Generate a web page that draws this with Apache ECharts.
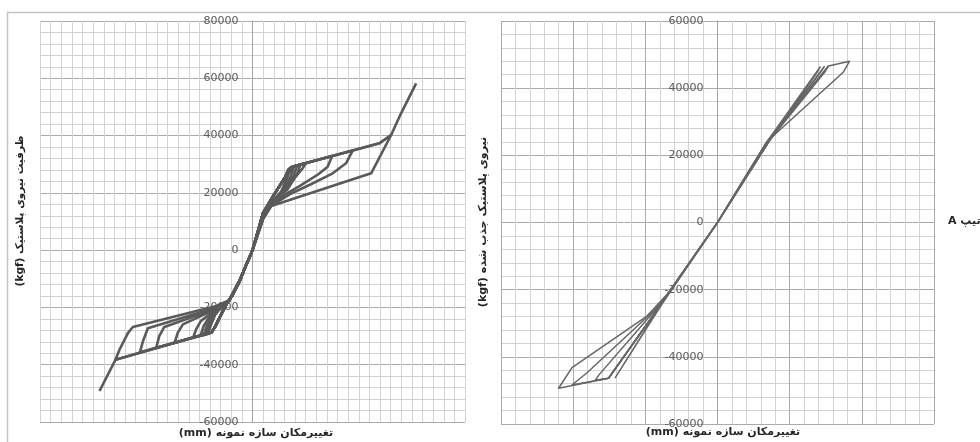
<!DOCTYPE html>
<html><head><meta charset="utf-8">
<script src="https://cdn.jsdelivr.net/npm/echarts@6/dist/echarts.min.js"></script>
<style>html,body{margin:0;padding:0;background:#fff}#c{width:980px;height:442px}</style>
</head><body><div id="c"></div>
<script>
// ---- Left chart (hysteresis) : [displacement (grid units), force kgf]
const leftLoop1 = [[0,0],[0.5,6500],[1.0,13000],[2.0,19200],[3.0,25000],[3.35,28200],[3.6,28980],[3.3,25500],[2.7,20500],[1.9,17000],[1.0,11500],[0,0],[-0.6,-5200],[-1.2,-10800],[-1.9,-15800],[-2.4,-18500],[-3.0,-22800],[-3.5,-26600],[-3.85,-28700],[-4.2,-29280],[-3.9,-26000],[-3.5,-22500],[-3.0,-20200],[-2.2,-17600],[-1.2,-10500],[0,0]];
const leftLoop2 = [[0,0],[0.5,6500],[1.0,13000],[2.0,19200],[3.0,25000],[3.6,28500],[3.9,29280],[3.6,25800],[2.9,20800],[1.9,17000],[1.0,11500],[0,0],[-0.6,-5200],[-1.2,-10800],[-1.9,-15800],[-2.4,-18500],[-3.0,-22800],[-3.5,-26600],[-3.85,-28700],[-4.4,-29480],[-4.1,-26200],[-3.6,-22700],[-3.1,-20300],[-2.2,-17600],[-1.2,-10500],[0,0]];
const leftLoop3 = [[0,0],[0.5,6500],[1.0,13000],[2.0,19200],[3.0,25000],[3.76,29140],[4.2,29580],[3.9,26200],[3.1,21000],[1.9,17000],[1.0,11500],[0,0],[-0.6,-5200],[-1.2,-10800],[-1.9,-15800],[-2.4,-18500],[-3.0,-22800],[-3.5,-26600],[-3.85,-28700],[-4.6,-29680],[-4.3,-26400],[-3.8,-22900],[-3.2,-20300],[-2.2,-17600],[-1.2,-10500],[0,0]];
const leftLoop4 = [[0,0],[0.5,6500],[1.0,13000],[2.0,19200],[3.0,25000],[3.76,29140],[4.5,29880],[4.2,26600],[3.3,21200],[1.9,17100],[1.0,11500],[0,0],[-0.6,-5200],[-1.2,-10800],[-1.9,-15800],[-2.4,-18500],[-3.0,-22800],[-3.5,-26600],[-3.85,-28700],[-4.9,-29980],[-4.6,-26500],[-4.0,-23000],[-3.3,-20300],[-2.2,-17600],[-1.2,-10500],[0,0]];
const leftLoop5 = [[0,0],[0.5,6500],[1.0,13000],[2.0,19200],[3.0,25000],[3.76,29140],[5.05,30430],[4.6,28000],[3.8,24500],[2.6,19500],[1.76,15900],[1.0,11000],[0,0],[-0.6,-5200],[-1.2,-10800],[-1.9,-15800],[-2.4,-18500],[-3.0,-22800],[-3.5,-26600],[-3.85,-28700],[-5.6,-30680],[-5.3,-27600],[-4.85,-24700],[-3.3,-20400],[-2.2,-17800],[-1.2,-10500],[0,0]];
const leftLoop6 = [[0,0],[0.5,6500],[1.0,13000],[2.0,19200],[3.0,25000],[3.76,29140],[7.5,32870],[7.07,29140],[6.2,26500],[4.5,22500],[3.0,19300],[1.76,15600],[1.0,11000],[0,0],[-0.6,-5200],[-1.2,-10800],[-1.9,-15800],[-2.4,-18500],[-3.0,-22800],[-3.5,-26600],[-3.85,-28700],[-7.34,-32420],[-7.03,-28800],[-6.55,-25900],[-3.3,-20300],[-2.2,-17700],[-1.2,-10500],[0,0]];
const leftLoop7 = [[0,0],[0.5,6500],[1.0,13000],[2.0,19200],[3.0,25000],[3.76,29140],[9.44,34800],[8.8,30320],[7.55,26830],[5.5,23000],[3.5,19500],[1.76,15500],[1.0,11000],[0,0],[-0.6,-5200],[-1.2,-10800],[-1.9,-15800],[-2.4,-18500],[-3.0,-22800],[-3.5,-26600],[-3.85,-28700],[-9.06,-34140],[-8.78,-30000],[-8.3,-26800],[-3.3,-20200],[-2.2,-17600],[-1.2,-10500],[0,0]];
const leftLoop8 = [[0,0],[0.5,6500],[1.0,13000],[2.0,19200],[3.0,25000],[3.76,29140],[11.95,37300],[13.05,40200],[11.17,26830],[1.76,15420],[1.0,11000],[0,0],[-0.6,-5200],[-1.2,-10800],[-1.9,-15800],[-2.4,-18500],[-3.0,-22800],[-3.5,-26600],[-3.85,-28700],[-10.6,-35680],[-10.3,-31700],[-9.85,-27280],[-3.4,-20000],[-2.2,-17600],[-1.2,-10500],[0,0]];
const leftLoop9 = [[0,0],[-0.6,-5200],[-1.2,-10800],[-1.9,-15800],[-2.4,-18500],[-3.0,-22800],[-3.5,-26600],[-3.85,-28700],[-12.9,-38300],[-12.5,-34600],[-11.7,-28800],[-11.26,-26820],[-3.4,-19490],[-2.2,-17500],[-1.2,-10500],[0,0]];
const leftFinalPos = [[0,0],[0.5,6500],[1.0,13000],[2.0,19200],[3.0,25000],[3.76,29140],[11.95,37300],[13.05,40200],[13.83,46600],[15.4,58250]];
const leftFinalNeg = [[0,0],[-0.6,-5200],[-1.2,-10800],[-1.9,-15800],[-2.4,-18500],[-3.0,-22800],[-3.5,-26600],[-3.85,-28700],[-12.9,-38300],[-14.4,-49170]];

// ---- Right chart
const rightLoop1 = [[0,0],[3.42,24000],[7.11,46310],[6.9,44700],[3.6,24300],[0,0],[-3.39,-20930],[-3.74,-23300],[-7.08,-46200],[-6.85,-44600],[-3.85,-24300],[0,0]];
const rightLoop2 = [[0,0],[3.42,24000],[7.4,46450],[7.15,44800],[3.6,24300],[0,0],[-3.39,-20930],[-3.74,-23300],[-7.55,-46390],[-7.3,-44800],[-3.9,-24400],[0,0]];
const rightLoop3 = [[0,0],[3.42,24000],[7.69,46610],[7.45,44900],[3.6,24400],[0,0],[-3.39,-20930],[-3.74,-23300],[-7.55,-46390],[-8.47,-46980],[-8.2,-45300],[-4.3,-26000],[-3.39,-20930],[0,0]];
const rightLoop4 = [[0,0],[3.42,24000],[7.69,46610],[9.14,48010],[8.73,44830],[3.53,24500],[0,0],[-3.39,-20930],[-3.74,-23300],[-7.55,-46390],[-10.08,-48380],[-9.04,-44740],[-4.43,-26370],[-3.39,-20930],[0,0]];
const rightLoop5 = [[0,0],[-3.39,-20930],[-3.74,-23300],[-7.55,-46390],[-11.01,-49360],[-10.08,-43230],[-4.89,-27850],[-3.39,-20930],[0,0]];

// ---- Axis ranges / ticks
const leftYTicks = {min:-60000, max:80000, interval:20000};
const rightYTicks = {min:-60000, max:60000, interval:20000};
const leftXRange = {min:-20, max:20, interval:1};
const rightXRange = {min:-15, max:15, interval:5};

// ---- Texts
const leftYName = '(kgf) ظرفیت نیروی پلاستیک';
const rightYName = '(kgf) نیروی پلاستیک جذب شده';
const xName = '(mm) تغییرمکان سازه نمونه';
const sideText = 'A تیپ';

const MINOR = '#d3d3d3', MAJOR = '#ababab', LINE = '#5a5a5a', FONT = 'DejaVu Sans';
const G1 = {left:40, top:21, width:425, height:401};
const G2 = {left:501, top:21, width:433, height:403};

function yAxisCfg(grid, t, g, xr){
  // place the vertical axis where x = 0
  const zeroOff = g.width * (0 - xr.min) / (xr.max - xr.min);
  return {gridIndex:grid, type:'value', min:t.min, max:t.max, interval:t.interval,
    position:'left', offset:-zeroOff,
    axisLine:{show:true, onZero:false, lineStyle:{color:'#a3a3a3', width:1}},
    axisTick:{show:false},
    axisLabel:{color:'#595959', fontSize:11, margin:14, fontFamily:FONT, formatter:v=>String(v)},
    splitLine:{show:true, lineStyle:{color:MAJOR, width:1}},
    minorTick:{show:false, splitNumber:5},
    minorSplitLine:{show:true, lineStyle:{color:MINOR, width:1}}};
}
function mkSeries(data, xi, w, c){
  return {type:'line', xAxisIndex:xi, yAxisIndex:xi, data:data, symbol:'none', silent:true,
    lineStyle:{color:c, width:w, join:'round'}, z:3};
}
const leftLoops = [leftLoop1,leftLoop2,leftLoop3,leftLoop4,leftLoop5,leftLoop6,leftLoop7,leftLoop8,leftLoop9,leftFinalPos,leftFinalNeg];
const rightLoops = [rightLoop1,rightLoop2,rightLoop3,rightLoop4,rightLoop5];

const chart = echarts.init(document.getElementById('c'), null, {renderer:'canvas'});
chart.setOption({
  animation:false,
  grid:[Object.assign({outerBoundsMode:'none', containLabel:false}, G1), Object.assign({outerBoundsMode:'none', containLabel:false}, G2)],
  xAxis:[
    {gridIndex:0, type:'value', min:leftXRange.min, max:leftXRange.max, interval:leftXRange.interval,
      axisLine:{show:false, onZero:false}, axisTick:{show:false}, axisLabel:{show:false},
      splitLine:{show:true, lineStyle:{color:MINOR, width:1}}},
    {gridIndex:1, type:'value', min:rightXRange.min, max:rightXRange.max, interval:rightXRange.interval,
      axisLine:{show:false, onZero:false}, axisTick:{show:false}, axisLabel:{show:false},
      splitLine:{show:true, lineStyle:{color:MAJOR, width:1}},
      minorTick:{show:false, splitNumber:5},
      minorSplitLine:{show:true, lineStyle:{color:MINOR, width:1}}}
  ],
  yAxis:[yAxisCfg(0, leftYTicks, G1, leftXRange), yAxisCfg(1, rightYTicks, G2, rightXRange)],
  series:[].concat(
    leftLoops.map(d=>mkSeries(d,0,2.6,LINE)),
    rightLoops.map(d=>mkSeries(d,1,1.5,'#666666'))
  ),
  graphic:[
    {type:'polyline', shape:{points:[[7.5,442],[7.5,12.5],[980,12.5]]}, style:{stroke:'#c4c4c4', lineWidth:1.5, fill:null}},
    {type:'text', x:20, y:211, rotation:Math.PI/2, style:{text:leftYName, font:'bold 10.5px "DejaVu Sans"', fill:'#262626', align:'center', verticalAlign:'middle'}},
    {type:'text', x:483, y:222, rotation:Math.PI/2, style:{text:rightYName, font:'bold 11px "DejaVu Sans"', fill:'#262626', align:'center', verticalAlign:'middle'}},
    {type:'text', x:256, y:433, style:{text:xName, font:'bold 11px "DejaVu Sans"', fill:'#262626', align:'center', verticalAlign:'middle'}},
    {type:'text', x:723, y:432, style:{text:xName, font:'bold 11px "DejaVu Sans"', fill:'#262626', align:'center', verticalAlign:'middle'}},
    {type:'text', x:948, y:221, style:{text:sideText, font:'bold 11px "DejaVu Sans"', fill:'#262626', align:'left', verticalAlign:'middle'}}
  ]
});
</script></body></html>
